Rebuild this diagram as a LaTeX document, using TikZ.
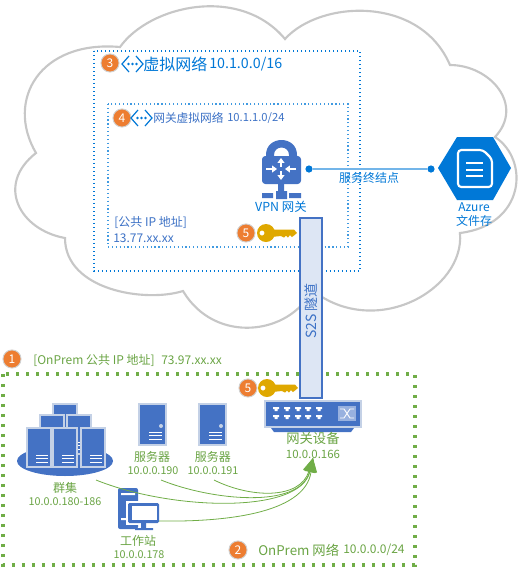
\documentclass[tikz,border=0pt]{standalone}
\usepackage{fontspec}
\setmainfont{Noto Sans CJK SC}
\usepackage{tikz}
\usetikzlibrary{arrows.meta}

\definecolor{azblue}{HTML}{0078D7}
\definecolor{iconblue}{HTML}{4472C4}
\definecolor{onpremgreen}{HTML}{70AD47}
\definecolor{badgeorange}{HTML}{ED7D31}
\definecolor{keygold}{HTML}{DFA800}

\begin{document}
\begin{tikzpicture}[
  x=0.75pt, y=-0.75pt,
  every node/.style = {inner sep=0pt, align=center},
  txt/.style      = {font=\fontsize{#1}{#1}\selectfont},
  azlabel/.style  = {txt=#1, text=azblue},
  gwlabel/.style  = {txt=#1, text=iconblue!90!azblue},
  oplabel/.style  = {txt=#1, text=onpremgreen!95!black},
  badge/.style    = {circle, fill=badgeorange, draw=black!18, line width=0.7pt,
                     minimum size=13.6pt, text=white, txt=9},
  portdot/.style  = {circle, fill=azblue, minimum size=5.4pt},
  vnetbox/.style  = {draw=azblue, line width=1.1pt, dash pattern=on 1.1pt off 1.9pt},
  subnetbox/.style= {draw=azblue!75, line width=0.9pt, dash pattern=on 0.9pt off 2pt},
  onprembox/.style= {draw=onpremgreen, line width=2.5pt, dash pattern=on 2.5pt off 5pt},
  flow/.style     = {onpremgreen, line width=0.6pt,
                     -{Triangle[length=10.5pt, width=9pt]}},
  rack/.style     = {fill=iconblue, draw=black!12!iconblue!30, line width=0.8pt},
  pics/keyicon/.style = {code={
    \fill[keygold, even odd rule] (0,0) ellipse (9 and 9) (-4,0) circle (2.6);
    \fill[keygold] (5,-3.5) -- (28,-3.5) -- (31,0) -- (28,2.5) -- (26,4) -- (24,2)
      -- (22,4.5) -- (20,2.5) -- (18,4.5) -- (15,3) -- (5,4) -- cycle;
  }},
  pics/vneticon/.style = {code={
    \draw[azblue, line width=0.9pt] (7,-8) -- (0,0) -- (7,8) (14,-8) -- (21,0) -- (14,8);
    \foreach \dx in {6.5,10.5,14.5} \fill[azblue] (\dx,0) circle (1.4);
  }},
  pics/stackserver/.style = {code={
    \fill[rack] (0,0) rectangle (24,39);
    \foreach \dy in {27,30.5,34} \draw[white, line width=0.6pt] (9,\dy) -- (21,\dy);
  }},
  pics/serverbox/.style = {code={
    \fill[rack] (0,0) rectangle (27,41);
    \fill[black!12!iconblue!30] (22,22) circle (2);
    \foreach \dy in {28,31.5,35} \draw[white, line width=0.6pt] (10,\dy) -- (23,\dy);
  }},
]
\useasboundingbox (0,0) rectangle (518,569);

%% ══ CLOUD ════════════════════════════════════════════════════════════════
\draw[draw=black!22, line width=1.6pt, fill=white]
  (120,47) .. controls (150,5) and (240,-15) .. (285,39)
  .. controls (320,0) and (420,-5) .. (450,65)
  .. controls (490,65) and (525,105) .. (495,137)
  .. controls (530,160) and (525,225) .. (460,233)
  .. controls (465,290) and (375,340) .. (312,290)
  .. controls (290,335) and (215,345) .. (183,291)
  .. controls (145,303) and (65,290) .. (65,238)
  .. controls (20,230) and (-5,185) .. (36,153)
  .. controls (5,100) and (40,40) .. cycle;

%% ══ AZURE SIDE ═══════════════════════════════════════════════════════════
\draw[vnetbox]   (94,51)   rectangle (360,271);
\draw[subnetbox] (108,104) rectangle (348,247);

\node[badge] (vnetbadge) at (110,63) {3};
\pic at (122,64) {vneticon};
\node[azlabel=12, anchor=west] (vnetname) at (143,64) {虚拟网络};
\node[azlabel=10.7, anchor=west] (vnetip) at (209,64) {10.1.0.0/16};

\node[badge] (subnetbadge) at (122,118) {4};
\pic at (131,118) {vneticon};
\node[gwlabel=8.8, anchor=west] (subnetname) at (153,118) {网关虚拟网络};
\node[gwlabel=8.4, anchor=west] (subnetip) at (227,118) {10.1.1.0/24};

\node[gwlabel=9, anchor=west] (pubiplabel) at (114,222) {[公共 IP 地址]};
\node[gwlabel=9, anchor=west] (pubip) at (113,238) {13.77.xx.xx};

%% ── VPN gateway icon ─────────────────────────────────────────────────────
\fill[iconblue, even odd rule]
  (266,158) -- (266,155) .. controls (266,135) and (297,135) .. (297,155) -- (297,158)
  -- (289,158) -- (289,155) .. controls (289,145) and (274,145) .. (274,155) -- (274,158) -- cycle;
\fill[iconblue, rounded corners=2.5pt] (262,156) rectangle (301,184);
\fill[iconblue] (278,184) rectangle (284,192) (262,193) rectangle (273,198)
  (276,191) rectangle (287,199) (289,193) rectangle (301,198);
\foreach \ax/\ay/\bx/\by in {281/167/281/158, 281/171/281/180, 266/169/277/169, 296/169/285/169}
  \draw[white, line width=1.2pt, -{Triangle[length=3.6pt, width=5pt]}] (\ax,\ay) -- (\bx,\by);
\node[azlabel=9.3] (vpnlabel) at (281,207) {VPN 网关};

%% ── File storage hexagon ─────────────────────────────────────────────────
\fill[azblue] (438,168) -- (457,137) -- (493,137) -- (511,168) -- (493,200) -- (457,200) -- cycle;
\draw[white, line width=1.6pt, rounded corners=2.5pt]
  (458,150) -- (483,150) -- (492,159) -- (492,187) -- (458,187) -- cycle;
\foreach \dy in {163,170,176} \draw[white, line width=2pt] (466,\dy) -- (483,\dy);
\node[azlabel=9] (azurelabel) at (474,207) {Azure};
\node[azlabel=9] (filelabel) at (474,221) {文件存};

\node[portdot] (vpnport) at (309,169) {};
\node[portdot] (fileport) at (431,169) {};
\draw[azblue!55, line width=1.3pt] (vpnport) -- (fileport);
\node[azlabel=9] (svclabel) at (369,178) {服务终结点};

%% ══ ON-PREM ══════════════════════════════════════════════════════════════
\draw[onprembox] (3,374) rectangle (415,565);

%% ── S2S tunnel ───────────────────────────────────────────────────────────
\node[fill=iconblue!18, draw=iconblue, line width=1.5pt, minimum width=16pt,
      minimum height=135pt] (tunnel) at (311,308) {};
\node[gwlabel=10.5, rotate=90] (tunnellabel) at (311,311) {S2S 隧道};

\node[badge] (keybadgeup) at (246,233) {5};
\pic at (266,233) {keyicon};
\node[badge] (keybadgedown) at (248,388) {5};
\pic at (267,388) {keyicon};

\node[badge] (opipbadge) at (12,359) {1};
\node[oplabel=9, anchor=west] (opiplabel) at (33,360) {[OnPrem 公共 IP 地址]};
\node[oplabel=9, anchor=west] (opip) at (161,360) {73.97.xx.xx};

%% ── Server cluster ───────────────────────────────────────────────────────
\fill[iconblue] (65,461) ellipse (48 and 15);
\pic at (53,404) {stackserver};
\pic at (40,415) {stackserver};
\pic at (67,415) {stackserver};
\pic at (27,428) {stackserver};
\pic at (53,428) {stackserver};
\pic at (81,428) {stackserver};
\node[oplabel=9] (clusterlabel) at (65,488) {群集};
\node[oplabel=8.1] (clusterip) at (65,502) {10.0.0.180-186};

%% ── Single servers ───────────────────────────────────────────────────────
\pic at (139,404) {serverbox};
\pic at (199,404) {serverbox};
\node[oplabel=9] (serveralabel) at (152,457) {服务器};
\node[oplabel=8.1] (serveraip) at (153,471) {10.0.0.190};
\node[oplabel=9] (serverblabel) at (213,457) {服务器};
\node[oplabel=8.1] (serverbip) at (213,471) {10.0.0.191};

%% ── Workstation ──────────────────────────────────────────────────────────
\fill[iconblue, rounded corners=1.5pt] (118,488) rectangle (138,529);
\fill[white] (121,493) rectangle (135,495) (121,518) rectangle (128,520);
\fill[white] (126,501) rectangle (161,525);
\fill[iconblue, rounded corners=1pt] (128,503) rectangle (159,523);
\fill[white] (132,506) rectangle (157,520);
\fill[iconblue] (141,523) rectangle (146,528) (135,528) rectangle (153,530);
\node[oplabel=9] (stationlabel) at (138,541) {工作站};
\node[oplabel=8.1] (stationip) at (139,555) {10.0.0.178};

%% ── Gateway device ───────────────────────────────────────────────────────
\fill[rack] (265,401) rectangle (361,427);
\fill[iconblue] (271,428) -- (354,428) -- (351,432) -- (274,432) -- cycle;
\foreach \px in {276,287,298,308,319} \foreach \py in {409,417}
  \fill[white] (\px-3,\py-2) rectangle (\px+3,\py) (\px-1.5,\py) rectangle (\px+1.5,\py+2);
\fill[iconblue!55!white] (338,406) rectangle (356,421);
\draw[white, line width=0.7pt] (340,409) -- (344,409) -- (350,418) -- (354,418)
  (340,418) -- (344,418) -- (350,409) -- (354,409);
\node[oplabel=10] (gwlabel) at (313,438) {网关设备};
\node[oplabel=8.6] (gwip) at (313,454) {10.0.0.166};

\node[badge] (opnetbadge) at (238,550) {2};
\node[oplabel=10, anchor=west] (opnetlabel) at (258,550) {OnPrem 网络};
\node[oplabel=9, anchor=west] (opnetip) at (343,550) {10.0.0.0/24};

%% ── Flows into the gateway ───────────────────────────────────────────────
\coordinate (clusterout) at (96,480);
\coordinate (serveraout) at (161,480);
\coordinate (serverbout) at (214,480);
\coordinate (stationout) at (159,521);
\coordinate (gwtip) at (313,458);

\draw[flow] (clusterout) .. controls (170,510) and (300,515) .. (gwtip);
\draw[flow] (serveraout) .. controls (210,500) and (300,510) .. (gwtip);
\draw[flow] (serverbout) .. controls (250,498) and (300,500) .. (gwtip);
\draw[flow] (stationout) .. controls (220,522) and (305,515) .. (gwtip);
\end{tikzpicture}
\end{document}
